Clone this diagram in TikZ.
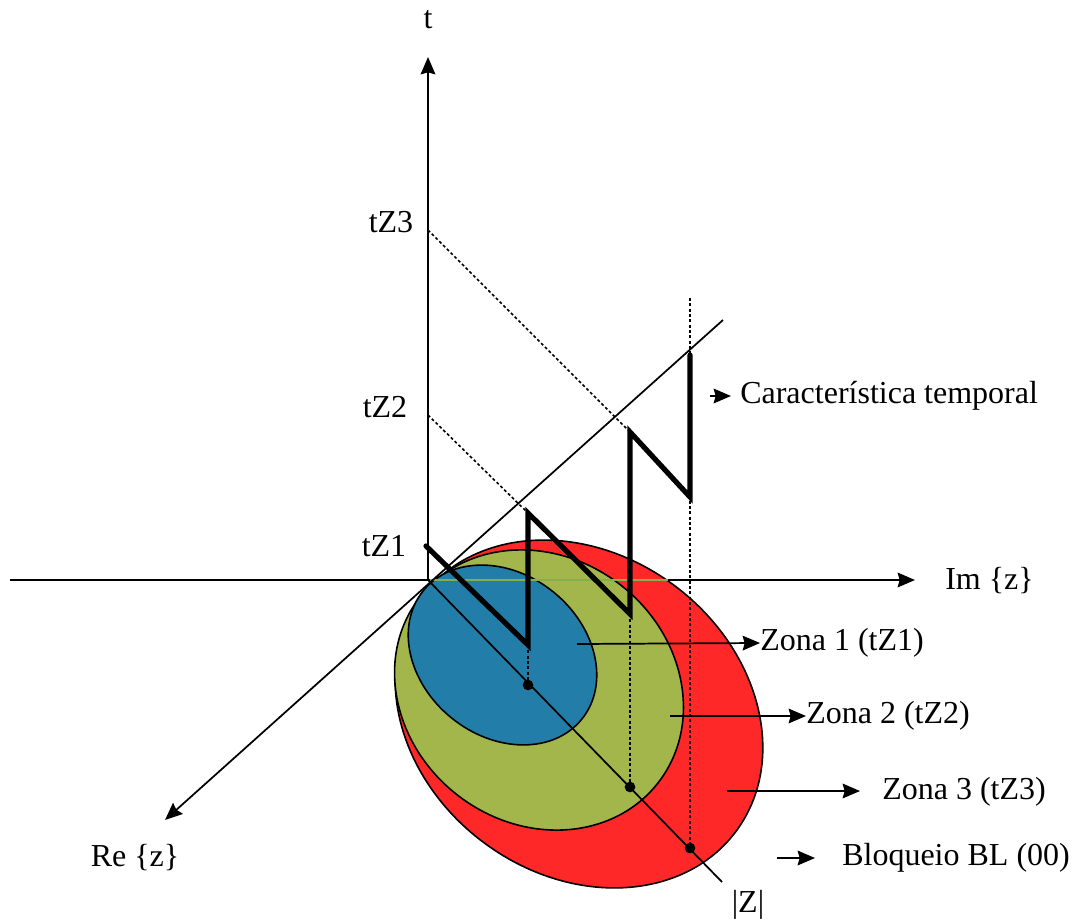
\documentclass[tikz,border=0pt]{standalone}
\usepackage{fontspec}
\setmainfont{Liberation Serif}
\usetikzlibrary{arrows.meta}
\definecolor{zred}{HTML}{FF2828}
\definecolor{zgreen}{HTML}{A3B64B}
\definecolor{zblue}{HTML}{227EA9}
\definecolor{zline}{HTML}{86AE4C}
\begin{document}
\begin{tikzpicture}[x=0.75pt,y=-0.75pt,
  font=\fontsize{24}{28}\selectfont,
  axis/.style={line width=1.3pt},
  tipbig/.style={-{Stealth[length=13pt,width=11pt,inset=1.5pt]}},
  lbl/.style={inner sep=0pt, anchor=west},
  clbl/.style={inner sep=0pt},
  zig/.style={line width=3.9pt, line join=miter, line cap=round},
  dots/.style={line width=1.2pt, dash pattern=on 2.2pt off 1.8pt},
  zone/.style={draw=black, line width=1.2pt},
  pt/.style={circle, fill=black, inner sep=0pt, minimum size=8pt}]
\useasboundingbox (0,0) rectangle (1077,923);

% coordinates
\coordinate (O) at (428,580);
\coordinate (ttop) at (428,57);
\coordinate (imL) at (10,580);
\coordinate (imR) at (915,580);
\coordinate (reU) at (723,320);
\coordinate (reD) at (165,820);
\coordinate (zEnd) at (722,882);
\coordinate (t1) at (426,546);
\coordinate (t2) at (428,415);
\coordinate (t3) at (428,230);
\coordinate (a1) at (528,645);
\coordinate (a2) at (528,513);
\coordinate (b1) at (630,614);
\coordinate (b2) at (630,432);
\coordinate (c1) at (690,497);
\coordinate (c2) at (690,355);
\coordinate (c0) at (690,298);
\coordinate (z1s) at (577,644);
\coordinate (z2s) at (670,716);
\coordinate (z3s) at (727,791);
\coordinate (z3e) at (860,791);
\coordinate (bls) at (777,858);
\coordinate (ble) at (815,858);
\coordinate (cas) at (710,396);
\coordinate (cae) at (731,396);

% labels
\node[clbl] (tl) at (428,20) {t};
\node[clbl] (tz3) at (391,222) {tZ3};
\node[clbl] (tz2) at (385,407) {tZ2};
\node[clbl] (tz1) at (384,546) {tZ1};
\node[lbl] (carac) at (740,396) {Característica temporal};
\node[lbl] (im) at (945,581) {Im \{z\}};
\node[lbl] (zona1) at (760,643) {Zona 1 (tZ1)};
\node[lbl] (zona2) at (806,716) {Zona 2 (tZ2)};
\node[lbl] (zona3) at (882,792) {Zona 3 (tZ3)};
\node[lbl] (bl) at (842,858) {Bloqueio BL (00)};
\node[clbl] (re) at (135,858) {Re \{z\}};
\node[clbl] (absz) at (748,905) {|Z|};

% red zone
\fill[zred, zone, rotate around={-37:(579,714)}] (579,714) ellipse [x radius=196, y radius=160];
% Im axis
\draw[axis, tipbig] (imL) -- (imR);
% green and blue zones
\fill[zgreen, zone, rotate around={-38:(539,690)}] (539,690) ellipse [x radius=151, y radius=133];
\fill[zblue, zone, rotate around={-39:(502.5,655)}] (502.5,655) ellipse [x radius=102, y radius=81];
\draw[zline, line width=1.2pt] (430,580) -- (668,580);

% t axis
\draw[axis, tipbig] (O) -- (ttop);
% Re axis
\draw[axis, tipbig] (reU) -- (reD);
% |Z| line
\draw[axis] (O) -- (zEnd);

% dotted projections
\draw[dots] (t2) -- (a2);
\draw[dots] (t3) -- (b2);
\draw[dots] (a1) -- (528,685) coordinate (p1);
\draw[dots] (b1) -- (630,787) coordinate (p2);
\draw[dots] (c0) -- (690,848) coordinate (p3);

% characteristic
\draw[zig] (t1) -- (a1) -- (a2) -- (b1) -- (b2) -- (c1) -- (c2);

% points
\node[pt] (P1) at (p1) {};
\node[pt] (P2) at (p2) {};
\node[pt] (P3) at (p3) {};

% label arrows
\draw[axis, tipbig] (z1s) -- (zona1.west);
\draw[axis, tipbig] (z2s) -- (zona2.west);
\draw[axis, tipbig] (z3s) -- (z3e);
\draw[axis, tipbig] (bls) -- (ble);
\draw[axis, tipbig] (cas) -- (cae);
\end{tikzpicture}
\end{document}
